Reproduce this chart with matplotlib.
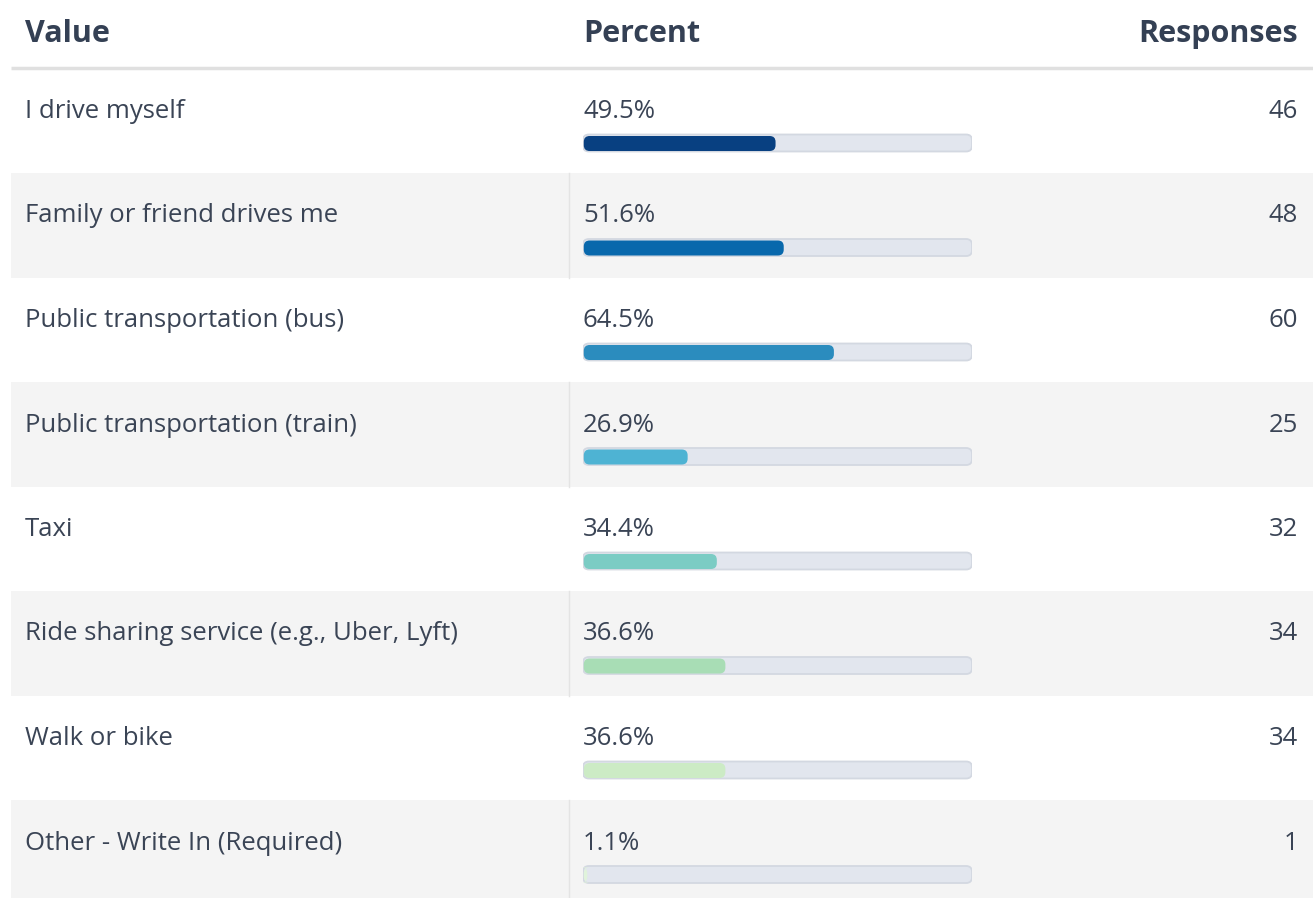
import matplotlib
matplotlib.use("Agg")
import matplotlib.pyplot as plt
from matplotlib.patches import FancyBboxPatch, Rectangle

# ---- data ----
labels = ["I drive myself", "Family or friend drives me", "Public transportation (bus)",
          "Public transportation (train)", "Taxi", "Ride sharing service (e.g., Uber, Lyft)",
          "Walk or bike", "Other - Write In (Required)"]
percents = [49.5, 51.6, 64.5, 26.9, 34.4, 36.6, 36.6, 1.1]
responses = [46, 48, 60, 25, 32, 34, 34, 1]
bar_colors = ["#084081", "#0868ac", "#2b8cbe", "#4eb3d3", "#7bccc4", "#a8ddb5", "#ccebc5", "#e0f3db"]
headers = ["Value", "Percent", "Responses"]

W, H = 1313, 898
TEXT = "#3a4455"
HEAD = "#344054"
plt.rcParams['font.family'] = ['Open Sans', 'DejaVu Sans']

fig = plt.figure(figsize=(W / 100, H / 100), dpi=100)
ax = fig.add_axes([0, 0, 1, 1])
ax.set_xlim(0, W)
ax.set_ylim(H, 0)
ax.axis("off")

head_h = 68.5
row_h = 104.5
BODY = 18.5

# header
for x, h, ha in zip([25, 583, 1298], headers, ["left", "left", "right"]):
    ax.text(x, 34, h, fontsize=22, fontweight="bold", color=HEAD, va="center", ha=ha)
ax.plot([11, W], [head_h - 1, head_h - 1], color="#e0e0e0", lw=2.5, solid_capstyle="butt")

# bar column axes, x in percent, y in pixels
bx0, bw = 583, 389
bax = fig.add_axes([bx0 / W, 0, bw / W, 1])
bax.set_xlim(0, 100)
bax.set_ylim(H, 0)
bax.axis("off")
aspect = bw / 100.0

for i, (lab, p, n, c) in enumerate(zip(labels, percents, responses, bar_colors)):
    top = head_h + i * row_h
    if i % 2 == 1:
        ax.add_patch(Rectangle((11, top), W - 11, row_h, color="#f4f4f4", lw=0, zorder=0))
        ax.plot([568.5, 568.5], [top, min(top + row_h, H)], color="#e4e4e4", lw=1, zorder=1)
    ty = top + 43
    ax.text(25, ty, lab, fontsize=BODY, color=TEXT, va="center")
    ax.text(583, ty, f"{p}%", fontsize=BODY, color=TEXT, va="center")
    ax.text(1298, ty, str(n), fontsize=BODY, color=TEXT, va="center", ha="right")

    by = top + 66
    bh = 17
    track = FancyBboxPatch((0, by), 100, bh, boxstyle="round,pad=0,rounding_size=1.5",
                           mutation_aspect=aspect, fc="#e2e6ee", ec="#d3d8e1", lw=1.3, zorder=2)
    bax.add_patch(track)
    fill = FancyBboxPatch((0.2, by + 1.5), p - 0.2, bh - 2, boxstyle="round,pad=0,rounding_size=1.5",
                          mutation_aspect=aspect, fc=c, ec="none", zorder=3)
    bax.add_patch(fill)

fig.savefig("out.png", dpi=100)
